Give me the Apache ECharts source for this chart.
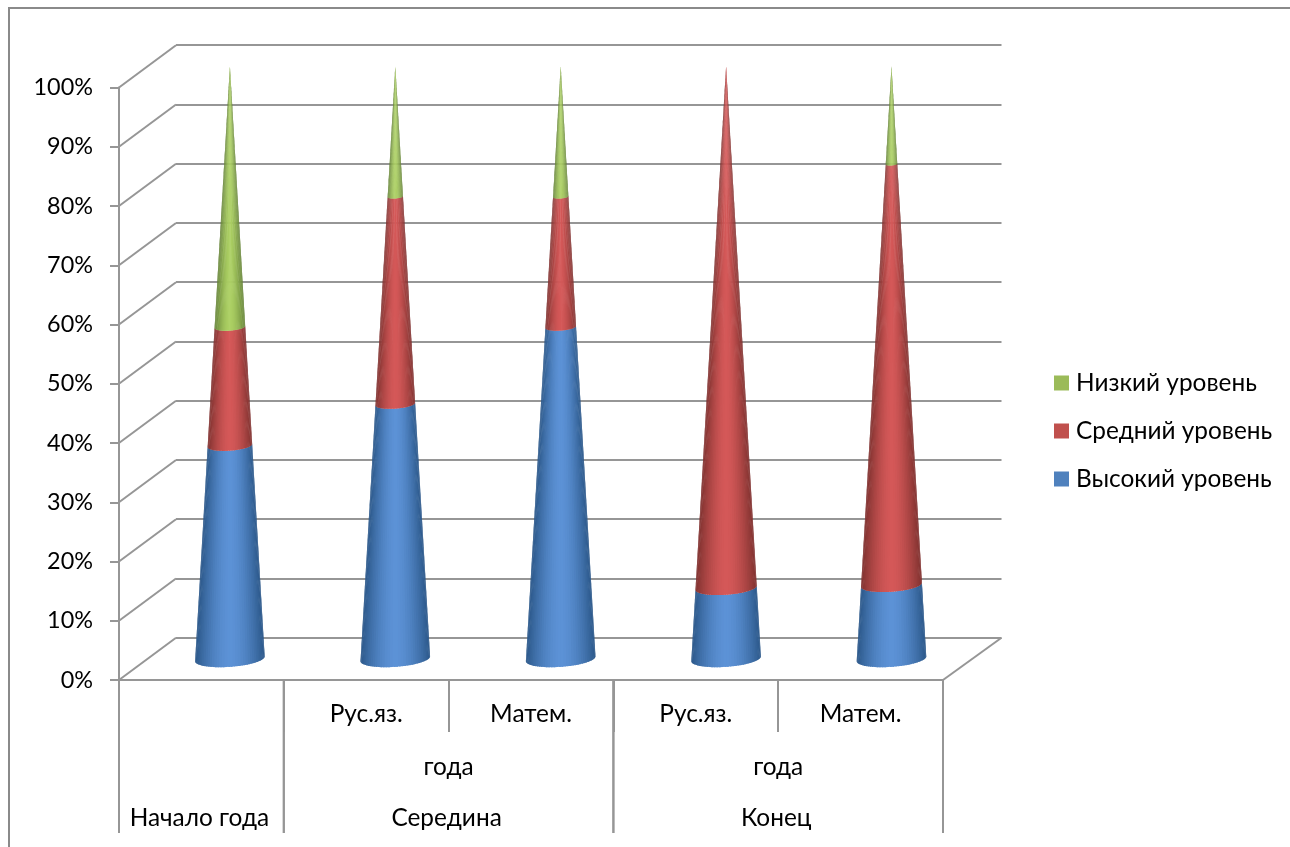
<!DOCTYPE html>
<html><head><meta charset="utf-8">
<style>html,body{margin:0;padding:0;background:#fff}#c{width:1290px;height:847px}</style>
<script src="https://cdn.jsdelivr.net/npm/echarts@6/dist/echarts.min.js"></script>
</head><body><div id="c"></div>
<script>
var categories = ['', 'Рус.яз.', 'Матем.', 'Рус.яз.', 'Матем.'];
var groupStart = [0, 1, 3];
var groupEnd = [0, 2, 4];
var groupMiddle = ['', 'года', 'года'];
var groupBottom = ['Начало года', 'Середина', 'Конец'];
var yTicks = [0, 10, 20, 30, 40, 50, 60, 70, 80, 90, 100];
var highLevel = [36, 43, 56, 12, 12.5];
var midLevel = [20, 35, 22, 88, 71];
var lowLevel = [44, 22, 22, 0, 16.5];

var FONT = 'Lato, "Open Sans"', GRID = '#969696';
var DX = 57, DY = -42.3;
var BASE_R = 34.8, RY = 0.23, TILT = 0.07;

function mix(a, b, t) {
  return 'rgb(' + [0, 1, 2].map(function (i) { return Math.round(a[i] + (b[i] - a[i]) * t); }).join(',') + ')';
}
function coneSeries(name, swatch, dark, light, starts, values) {
  return {
    name: name, type: 'custom', coordinateSystem: 'cartesian2d', xAxisIndex: 0, yAxisIndex: 0, z: 5,
    itemStyle: { color: swatch }, encode: { x: 0, y: [1, 2] }, clip: false,
    data: values.map(function (v, i) { return [i, starts[i], starts[i] + v]; }),
    renderItem: function (p, api) {
      var v0 = api.value(1), v1 = api.value(2);
      if (v1 <= v0) return { type: 'group', children: [] };
      var idx = api.value(0);
      var c0 = api.coord([idx, v0]), c1 = api.coord([idx, v1]);
      var cx = c0[0] + DX / 2 + idx * 0.6, y0 = c0[1] + DY / 2, y1 = c1[1] + DY / 2;
      var r0 = BASE_R * (1 - v0 / 100), r1 = BASE_R * (1 - v1 / 100);
      function pt(r, y, th) {
        return [cx + r * Math.cos(th), y + r * RY * Math.sin(th) - r * TILT * Math.cos(th)];
      }
      var kids = [], N = 40;
      for (var k = 0; k < N; k++) {
        var a = Math.PI * k / N, b = Math.PI * Math.min(k + 1.6, N) / N, m = Math.PI * (k + 0.5) / N;
        var col = mix(dark, light, 1 - Math.pow(Math.abs(Math.cos(m)), 1.7));
        kids.push({ type: 'polygon', shape: { points: [pt(r0, y0, a), pt(r0, y0, b), pt(r1, y1, b), pt(r1, y1, a)] },
          style: { fill: col } });
      }
      return { type: 'group', children: kids };
    }
  };
}
var s1 = highLevel.map(function (v) { return v; });
var s2 = highLevel.map(function (v, i) { return v + midLevel[i]; });

var option = {
  animation: false,
  backgroundColor: '#fff',
  textStyle: { fontFamily: FONT },
  graphic: [{ type: 'rect', silent: true, shape: { x: 9, y: 8, width: 1400, height: 1000 },
    style: { fill: 'none', stroke: '#8a8a8a', lineWidth: 2 } }],
  grid: [
    { left: 119, top: 87.5, width: 824, height: 592.5 },
    { left: 176, top: 45.2, width: 825.5, height: 592.5 }
  ],
  xAxis: [
    { type: 'category', gridIndex: 0, data: categories,
      axisLine: { lineStyle: { color: GRID, width: 2 } },
      axisTick: { show: true, length: 52, lineStyle: { color: GRID, width: 2 } },
      axisLabel: { color: '#000', fontSize: 24.4, fontFamily: FONT, margin: 22, interval: 0 } },
    { type: 'category', gridIndex: 1, data: categories, show: false }
  ],
  yAxis: [
    { type: 'value', gridIndex: 0, min: 0, max: 100, interval: 10,
      axisLine: { show: true, lineStyle: { color: GRID, width: 2 } },
      axisTick: { show: true, length: 9, lineStyle: { color: GRID, width: 2 } },
      splitLine: { show: false },
      axisLabel: { color: '#000', fontSize: 23.4, fontFamily: FONT, margin: 26, formatter: '{value}%', padding: [2, 0, 0, 0] } },
    { type: 'value', gridIndex: 1, min: 0, max: 100, interval: 10,
      axisLine: { show: false }, axisTick: { show: false }, axisLabel: { show: false },
      splitLine: { show: true, lineStyle: { color: GRID, width: 2 } } }
  ],
  legend: {
    show: true, orient: 'vertical', left: 1054, top: 371, itemWidth: 15, itemHeight: 15, itemGap: 24,
    icon: 'rect', data: ['Низкий уровень', 'Средний уровень', 'Высокий уровень'],
    textStyle: { color: '#000', fontSize: 24.4, fontFamily: FONT, padding: [0, 0, 0, 2], lineHeight: 24 },
    padding: 0
  },
  series: [
    { type: 'custom', name: 'depth', xAxisIndex: 0, yAxisIndex: 0, z: 1, clip: false, silent: true,
      encode: { y: 0 }, data: yTicks.map(function (t) { return [t]; }),
      renderItem: function (p, api) {
        var c = api.coord([0, api.value(0)]), left = p.coordSys.x;
        return { type: 'line', shape: { x1: left, y1: c[1], x2: left + DX, y2: c[1] + DY },
          style: { stroke: GRID, lineWidth: 2, fill: null } };
      } },
    { type: 'custom', name: 'floor', xAxisIndex: 0, yAxisIndex: 0, z: 1, clip: false, silent: true,
      encode: { y: 0 }, data: [[0]],
      renderItem: function (p, api) {
        var c = api.coord([0, 0]), right = p.coordSys.x + p.coordSys.width;
        return { type: 'line', shape: { x1: right, y1: c[1], x2: right + DX + 1.5, y2: c[1] + DY },
          style: { stroke: GRID, lineWidth: 2, fill: null } };
      } },
    { type: 'custom', name: 'groups', xAxisIndex: 0, yAxisIndex: 0, z: 2, clip: false, silent: true,
      encode: { x: [0, 1] }, data: groupStart.map(function (s, i) { return [s, groupEnd[i], 0]; }),
      renderItem: function (p, api) {
        var band = api.size([1, 0])[0], a = api.coord([api.value(0), 0]), b = api.coord([api.value(1), 0]);
        var l = a[0] - band / 2, r = b[0] + band / 2, y = a[1], mid = (l + r) / 2, i = p.dataIndex;
        function sep(x) {
          return { type: 'line', shape: { x1: x, y1: y, x2: x, y2: y + 153 }, style: { stroke: GRID, lineWidth: 2, fill: null } };
        }
        function label(t, cxx, yy) {
          return { type: 'text', style: { text: t, x: cxx, y: yy, fill: '#000', font: '24.4px ' + FONT, align: 'center', verticalAlign: 'middle' } };
        }
        return { type: 'group', children: [sep(l), sep(r), label(groupMiddle[i], mid, y + 87), label(groupBottom[i], mid - 2, y + 138)] };
      } },
    coneSeries('Высокий уровень', '#4F81BD', [44, 88, 138], [92, 146, 214], [0, 0, 0, 0, 0], highLevel),
    coneSeries('Средний уровень', '#C0504D', [128, 50, 48], [212, 88, 88], s1, midLevel),
    coneSeries('Низкий уровень', '#9BBB59', [100, 130, 54], [172, 208, 100], s2, lowLevel)
  ]
};
var chart = echarts.init(document.getElementById('c'), null, { renderer: 'canvas', width: 1290, height: 847 });
chart.setOption(option);
</script></body></html>
